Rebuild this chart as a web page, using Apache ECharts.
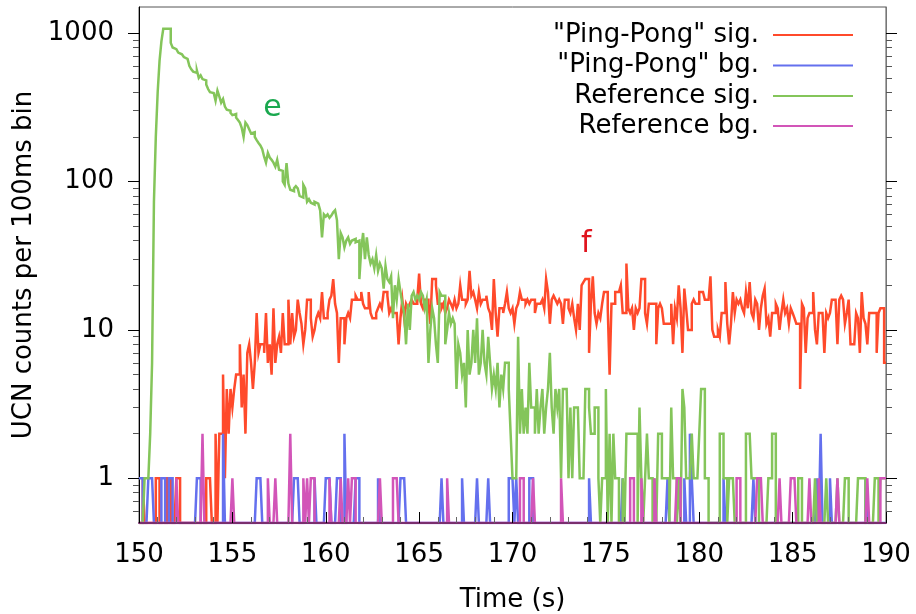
<!DOCTYPE html>
<html lang="en">
<head>
<meta charset="utf-8">
<title>UCN counts</title>
<script src="https://cdn.jsdelivr.net/npm/echarts@6.0.0/dist/echarts.min.js"></script>
<style>
  * { margin: 0; padding: 0; }
  #chart { width: 916px; height: 614px; background: #fff; }
</style>
</head>
<body>
<div id="chart"></div>
<script>
// 100 ms bins from 150.0 s to 189.9 s (one row = one second)
var binStart = 150.0;
var binWidth = 0.1;

// "Ping-Pong" signal
var ppSig = [
  0,0,1,0,0,0,0,0,0,1,
  1,0,0,0,0,1,1,0,0,0,
  1,1,0,0,0,0,0,0,0,0,
  0,0,0,0,0,0,1,1,1,0,
  0,2,0,2,2,5,1,4,2,4,
  3,4,5,5,8,3,5,2,7,8,
  6,4,6,13,7,8,8,7,13,6,
  8,5,14,6,8,9,7,13,8,8,
  16,8,13,9,10,16,13,11,8,10,
  16,16,12,9,10,12,13,12,18,12,
  12,13,16,17,22,15,13,6,12,12,
  8,12,13,12,16,16,17,16,16,18,
  15,14,14,18,13,12,12,13,14,15,
  14,18,18,17,13,14,13,13,13,8,
  12,16,12,15,14,15,16,15,15,16,
  24,15,14,16,16,15,11,22,22,20,
  15,15,14,15,13,14,16,15,14,16,
  14,15,20,16,16,15,16,25,17,18,
  16,14,18,15,16,16,17,14,13,10,
  22,13,9,14,14,13,15,18,14,13,
  14,11,14,15,18,16,16,15,16,15,
  16,16,13,15,15,15,16,14,22,18,
  11,16,17,16,15,16,15,11,16,16,
  14,13,15,12,10,15,10,20,21,22,
  22,7,15,23,13,11,13,12,15,18,
  18,14,5,15,15,18,18,18,20,13,
  13,28,14,13,14,10,14,13,14,22,
  22,13,11,15,15,15,15,8,14,15,
  14,11,11,11,11,15,8,14,12,20,
  14,7,19,14,10,10,15,16,15,15,
  18,18,18,16,16,16,23,10,9,9,
  10,9,13,13,21,11,8,11,18,13,
  16,15,16,14,13,18,14,21,13,12,
  16,15,10,14,17,19,11,12,9,13,
  13,15,14,10,13,16,13,14,11,14,
  13,12,11,11,4,15,14,7,12,13,
  13,18,10,8,13,13,13,7,13,12,
  13,16,16,16,8,16,17,16,11,13,
  16,8,8,8,13,12,7,18,12,11,
  8,13,13,13,13,7,13,14,14,6
];

// Reference signal
var refSig = [
  0,0,0,1,1,1,2,6,73,200,
  400,650,880,1070,1070,1060,1070,860,800,780,
  760,740,720,700,690,670,650,600,570,550,
  540,560,500,520,490,480,450,420,400,395,
  395,350,410,375,340,360,320,305,300,290,
  280,285,270,260,250,230,200,250,240,225,
  211,215,200,190,182,175,165,147,134,156,
  145,140,134,126,140,120,118,100,95,133,
  97,88,86,90,93,90,80,78,95,90,
  73,76,72,70,73,71,69,64,42,60,
  58,60,57,59,62,64,55,30,45,42,
  36,40,42,38,40,41,39,40,22,35,
  45,30,42,32,28,30,26,32,25,28,
  26,19,27,22,21,23,12,20,16,22,
  18,15,13,8,15,10,17,18,16,17,
  16,18,17,14,16,6,10,14,12,8,
  6,18,17,17,8,10,13,11,12,11,
  4,8,7,5,6,3,10,5,6,10,
  6,12,5,6,10,6,5,9,6,4,
  5,4,6,3,5,4,6,6,4,2,
  1,1,1,9,2,4,2,3,2,6,
  3,3,2,4,2,3,4,2,3,4,
  7,3,2,4,3,4,1,4,4,4,
  1,3,1,3,3,3,1,1,1,4,
  4,3,2,2,3,3,1,0,1,1,
  4,0,2,0,2,1,1,0,0,1,
  0,2,2,2,2,2,2,0,3,1,
  0,1,2,1,1,0,1,0,2,2,
  1,1,1,1,0,3,1,1,0,1,
  0,4,3,1,1,1,2,1,1,1,
  2,4,4,1,1,0,0,0,0,0,
  0,2,2,1,1,0,1,1,1,0,
  0,0,0,0,0,2,2,2,1,1,
  1,1,0,0,0,0,0,1,1,2,
  2,0,0,0,0,0,0,0,0,0,
  0,0,0,1,1,0,0,0,0,0,
  0,0,1,0,0,0,0,0,1,0,
  0,0,0,0,1,0,0,0,1,1,
  0,0,0,0,0,1,1,1,1,0,
  0,0,0,0,1,1,0,1,1,1
];

// backgrounds: only the non-empty bins (bin start time, counts)
var ppBgTimes = [150.0,150.1,150.5,150.6,150.7,151.2,151.3,151.6,151.7,153.1,153.2,154.5,
  156.3,156.4,156.5,158.3,158.4,158.5,159.4,160.0,160.1,160.2,160.6,160.7,161.0,161.6,161.7,
  162.8,164.0,164.1,164.2,166.2,167.3,168.1,168.7,169.8,169.9,170.0,170.2,170.9,171.0,174.1,
  175.9,178.3,179.2,179.5,179.6,181.3,182.9,186.3,186.5,187.0,188.9];
var ppBgCounts = [1,1,1,1,1,1,1,1,1,1,1,2,
  1,1,1,1,1,1,1,1,1,1,1,1,2,1,1,
  1,1,1,1,1,1,1,1,1,1,1,1,1,1,1,
  1,1,1,2,1,1,1,1,2,1,1];

var refBgTimes = [152.0,153.4,155.0,156.9,157.3,158.1,158.8,159.0,159.2,159.3,160.2,160.8,
  161.2,161.4,161.5,162.9,163.6,163.7,163.8,166.5,170.4,170.5,171.1,172.6,176.3,176.4,
  176.9,177.6,178.8,178.9,182.0,182.1,183.1,183.2,183.3,184.3,184.9,185.0,185.1,185.9,
  186.4,187.4,189.0,189.7,189.8,189.9];
var refBgCounts = [1,2,1,1,1,2,1,1,1,1,1,1,
  1,1,1,1,1,1,1,1,1,1,1,1,1,1,
  1,1,1,1,1,1,1,1,1,1,1,1,1,1,
  1,1,1,1,1,1];

var seriesNames = ['"Ping-Pong" sig.', '"Ping-Pong" bg.', 'Reference sig.', 'Reference bg.'];
var seriesColors = ['#ff4a2b', '#6470ee', '#84c55a', '#d255b8'];

// peak labels: [time, counts, text]
var peakLabels = [[157.15, 310, 'e'], [173.95, 38, 'f']];

var yMin = 0.5, yMax = 1500;
var majorY = [1, 10, 100, 1000];
var minorY = [0.6, 0.7, 0.8, 0.9, 2, 3, 4, 5, 6, 7, 8, 9, 20, 30, 40, 50, 60, 70, 80, 90,
  200, 300, 400, 500, 600, 700, 800, 900];

function sparseToBins(times, counts, n) {
  var out = new Array(n).fill(0);
  times.forEach(function (t, k) {
    out[Math.round((t - binStart) / binWidth)] = counts[k];
  });
  return out;
}

function edge(i) {
  return Math.round((binStart + i * binWidth) * 10) / 10;
}

// histogram steps: each bin is a flat segment from its left to its right edge,
// empty bins sit on the lower edge of the plot like gnuplot draws them
function histData(counts) {
  var pts = [];
  counts.forEach(function (c, i) {
    var v = c > 0 ? c : yMin;
    pts.push([edge(i), v], [edge(i + 1), v]);
  });
  return pts;
}

var nBins = ppSig.length;
var allCounts = [
  ppSig,
  sparseToBins(ppBgTimes, ppBgCounts, nBins),
  refSig,
  sparseToBins(refBgTimes, refBgCounts, nBins)
];

var font = 'DejaVu Sans';

var series = allCounts.map(function (c, k) {
  return {
    name: seriesNames[k],
    type: 'line',
    data: histData(c),
    showSymbol: false,
    color: seriesColors[k],
    lineStyle: { width: 2.5, color: seriesColors[k], join: 'miter' },
    xAxisIndex: 0,
    yAxisIndex: 0
  };
});

var labelColors = { e: '#1aa84f', f: '#e0141e' };
series[2].markPoint = {
  symbol: 'circle', symbolSize: 1, itemStyle: { color: 'transparent' },
  label: { show: true, formatter: peakLabels[0][2], fontSize: 30, fontFamily: font, color: labelColors.e },
  data: [{ coord: [peakLabels[0][0], peakLabels[0][1]] }]
};
series[0].markPoint = {
  symbol: 'circle', symbolSize: 1, itemStyle: { color: 'transparent' },
  label: { show: true, formatter: peakLabels[1][2], fontSize: 30, fontFamily: font, color: labelColors.f },
  data: [{ coord: [peakLabels[1][0], peakLabels[1][1]] }]
};

var legendRows = [20, 50.5, 81, 111];
var legends = seriesNames.map(function (nm, k) {
  return {
    data: [nm],
    top: legendRows[k],
    right: 63,
    padding: 0,
    align: 'right',
    icon: 'rect',
    itemWidth: 80,
    itemHeight: 2,
    selectedMode: false,
    textStyle: { fontFamily: font, fontSize: 26, color: '#000', lineHeight: 30, padding: [0, 9, 0, 0] }
  };
});

function logAxis(pos, ticks, len, color, withLabels) {
  return {
    type: 'log',
    position: pos,
    min: yMin,
    max: yMax,
    gridIndex: 0,
    axisLine: { show: withLabels, lineStyle: { color: pos === 'left' ? '#000' : '#777', width: 1 } },
    axisTick: { show: true, inside: false, length: len, customValues: ticks, lineStyle: { color: color, width: 1 } },
    axisLabel: withLabels && pos === 'left'
      ? { show: true, customValues: majorY, fontFamily: font, fontSize: 26, color: '#000', margin: 25,
          formatter: function (v) { return String(Math.round(v)); } }
      : { show: false },
    splitLine: { show: false },
    minorTick: { show: false }
  };
}

var yAxes = [
  logAxis('left', majorY, 11, '#000', true),
  logAxis('left', minorY, 6, '#555', false),
  logAxis('right', majorY, 11, '#000', true),
  logAxis('right', minorY, 6, '#555', false)
];
yAxes[0].name = 'UCN counts per 100ms bin';
yAxes[0].nameLocation = 'middle';
yAxes[0].nameGap = 102;
yAxes[0].nameTextStyle = { fontFamily: font, fontSize: 26, color: '#000' };

var chart = echarts.init(document.getElementById('chart'), null, { renderer: 'canvas' });
chart.setOption({
  animation: false,
  backgroundColor: '#fff',
  grid: {
    left: 139, right: 30, top: 7, bottom: 91,
    outerBoundsMode: 'none', containLabel: false,
    show: true, borderColor: '#555', borderWidth: 1, backgroundColor: 'transparent'
  },
  legend: legends,
  xAxis: {
    type: 'value',
    min: 150,
    max: 190,
    interval: 5,
    z: 5,
    name: 'Time (s)',
    nameLocation: 'middle',
    nameGap: 64,
    nameTextStyle: { fontFamily: font, fontSize: 26, color: '#000' },
    axisLine: { show: true, lineStyle: { color: '#7a2e6e', width: 2 } },
    axisTick: { show: true, inside: true, length: 11, lineStyle: { color: '#000' } },
    minorTick: { show: true, splitNumber: 5, length: 6, lineStyle: { color: '#666' } },
    axisLabel: { fontFamily: font, fontSize: 26, color: '#000', margin: 19 },
    splitLine: { show: false }
  },
  yAxis: yAxes,
  series: series
});
</script>
</body>
</html>
